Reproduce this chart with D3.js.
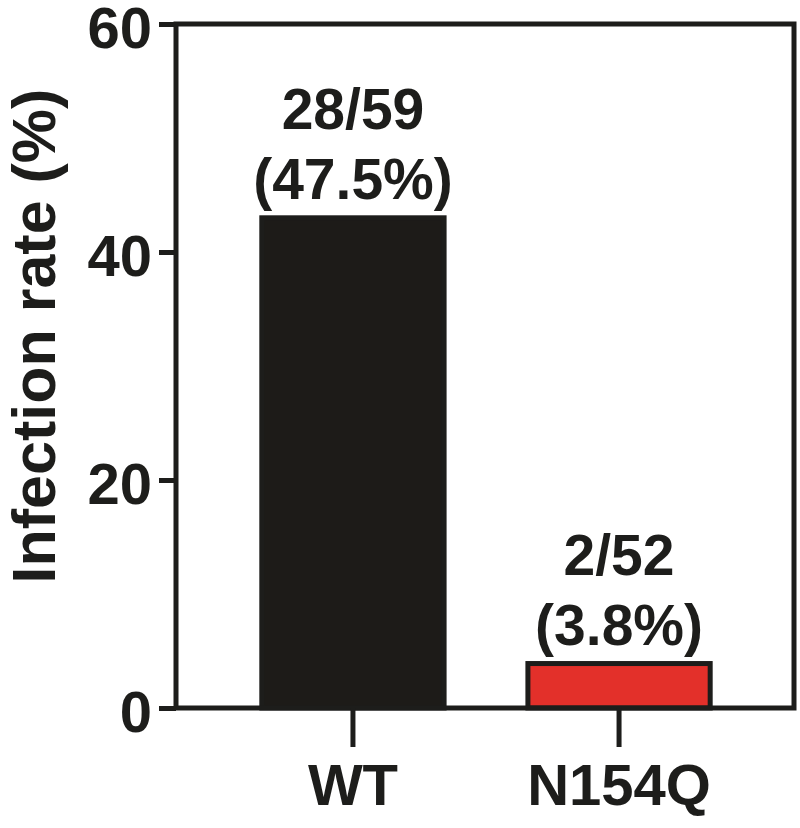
<!DOCTYPE html>
<html>
<head>
<meta charset="utf-8">
<script src="https://cdn.jsdelivr.net/npm/d3@7"></script>
<style>
  body { margin: 0; background: #fff; }
  text { font-family: "Liberation Sans", Arial, sans-serif; font-weight: bold; fill: #1d1d1b; }
</style>
</head>
<body>
<svg id="chart" width="800" height="828"></svg>
<script>
// chart data
var groups = ['WT', 'N154Q'];
var rates = [43.0, 3.9];
var countLabels = ['28/59', '2/52'];
var pctLabels = ['(47.5%)', '(3.8%)'];
var barColors = ['#1d1b18', '#e3302a'];
var yTicks = [0, 20, 40, 60];

var ink = '#1d1d1b';
var svg = d3.select('#chart');

var margin = {top: 24, right: 6, bottom: 120, left: 176},
    width = 800 - margin.left - margin.right,
    height = 828 - margin.top - margin.bottom;

var g = svg.append('g')
    .attr('transform', 'translate(' + margin.left + ',' + margin.top + ')');

var yScale = d3.scaleLinear()
    .domain([0, 60])
    .range([height, 0]);

var xScale = d3.scaleBand()
    .domain(groups)
    .range([2, width])
    .paddingInner(0.315)
    .paddingOuter(0.315);

// bars
g.selectAll('rect.bar')
    .data(groups)
    .enter().append('rect')
    .attr('class', 'bar')
    .attr('x', function(d) { return xScale(d); })
    .attr('width', xScale.bandwidth())
    .attr('y', function(d, i) { return yScale(rates[i]); })
    .attr('height', function(d, i) { return height - yScale(rates[i]); })
    .style('fill', function(d, i) { return barColors[i]; })
    .style('stroke', ink)
    .style('stroke-width', 5);

// labels above bars
var labels = g.selectAll('g.lab')
    .data(groups)
    .enter().append('g')
    .attr('class', 'lab')
    .attr('transform', function(d, i) {
        return 'translate(' + (xScale(d) + xScale.bandwidth() / 2) + ',' + (yScale(rates[i]) - 19) + ')';
    });
labels.append('text')
    .attr('text-anchor', 'middle')
    .attr('y', -70)
    .style('font-size', '57px')
    .text(function(d, i) { return countLabels[i]; });
labels.append('text')
    .attr('text-anchor', 'middle')
    .attr('y', 0)
    .style('font-size', '57px')
    .text(function(d, i) { return pctLabels[i]; });

// frame
g.append('rect')
    .attr('x', 0).attr('y', 0)
    .attr('width', width).attr('height', height)
    .style('fill', 'none')
    .style('stroke', ink)
    .style('stroke-width', 5);

// y axis
var yAxis = d3.axisLeft(yScale)
    .tickValues(yTicks)
    .tickSize(17)
    .tickSizeOuter(0);
var yAxisGroup = g.append('g').call(yAxis);
yAxisGroup.select('.domain').remove();
yAxisGroup.selectAll('line').style('stroke', ink).style('stroke-width', 5);
yAxisGroup.selectAll('text')
    .attr('x', -24)
    .attr('dy', '0.4em')
    .style('font-size', '58px')
    .style('font-family', '"Liberation Sans", Arial, sans-serif')
    .style('font-weight', 'bold')
    .style('fill', ink);

// x axis
var xAxis = d3.axisBottom(xScale)
    .tickSize(39)
    .tickSizeOuter(0);
var xAxisGroup = g.append('g')
    .attr('transform', 'translate(0,' + height + ')')
    .call(xAxis);
xAxisGroup.select('.domain').remove();
xAxisGroup.selectAll('line').style('stroke', ink).style('stroke-width', 5);
xAxisGroup.selectAll('text')
    .attr('y', 97)
    .attr('dy', 0)
    .style('font-size', '58px')
    .style('font-family', '"Liberation Sans", Arial, sans-serif')
    .style('font-weight', 'bold')
    .style('fill', ink);

// y axis title
svg.append('text')
    .attr('transform', 'translate(55,336) rotate(-90)')
    .attr('text-anchor', 'middle')
    .style('font-size', '61px')
    .text('Infection rate (%)');
</script>
</body>
</html>
